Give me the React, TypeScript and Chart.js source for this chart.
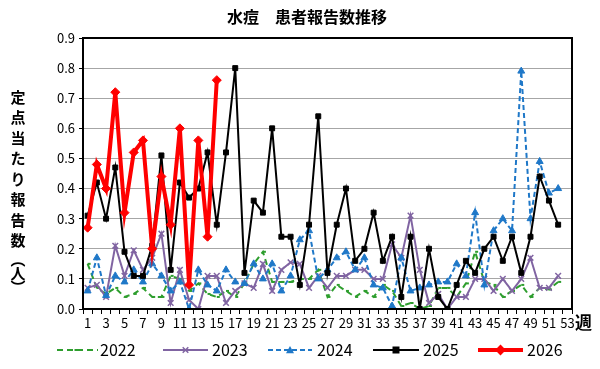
import React, { useEffect, useRef } from 'react';
import { Chart, registerables } from 'chart.js';
Chart.register(...registerables);

const weeks = ['1','2','3','4','5','6','7','8','9','10','11','12','13','14','15','16','17','18','19','20','21','22','23','24','25','26','27','28','29','30','31','32','33','34','35','36','37','38','39','40','41','42','43','44','45','46','47','48','49','50','51','52','53'];

const v2022 = [0.15,0.07,0.05,0.07,0.04,0.05,0.07,0.04,0.04,0.11,0.10,0.06,0.085,0.05,0.04,0.06,0.04,0.085,0.15,0.19,0.09,0.09,0.09,0.10,0.10,0.13,0.04,0.08,0.06,0.04,0.06,0.04,0.08,0.06,0.01,0.02,0.0,0.01,0.07,0.07,0.04,0.085,0.19,0.09,0.08,0.04,0.06,0.08,0.04,0.07,0.065,0.09];
const v2023 = [0.07,0.08,0.04,0.21,0.11,0.195,0.13,0.17,0.25,0.02,0.13,0.03,0.0,0.11,0.11,0.02,0.06,0.085,0.07,0.15,0.06,0.13,0.155,0.15,0.07,0.11,0.07,0.11,0.11,0.13,0.13,0.10,0.10,0.215,0.17,0.31,0.13,0.02,0.05,0.0,0.04,0.04,0.10,0.10,0.06,0.10,0.06,0.10,0.17,0.07,0.07,0.11];
const v2024 = [0.06,0.17,0.045,0.11,0.09,0.13,0.09,0.15,0.11,0.06,0.09,0.0,0.13,0.08,0.06,0.13,0.09,0.085,0.15,0.10,0.15,0.06,0.11,0.23,0.26,0.10,0.13,0.17,0.19,0.13,0.17,0.08,0.07,0.01,0.17,0.06,0.07,0.08,0.09,0.09,0.15,0.11,0.32,0.08,0.26,0.30,0.26,0.79,0.30,0.49,0.385,0.40];
const v2025 = [0.31,0.42,0.30,0.47,0.19,0.11,0.11,0.21,0.51,0.13,0.42,0.37,0.40,0.52,0.28,0.52,0.80,0.12,0.36,0.32,0.60,0.24,0.24,0.08,0.28,0.64,0.12,0.28,0.40,0.16,0.20,0.32,0.16,0.24,0.04,0.24,0.0,0.20,0.04,0.0,0.08,0.16,0.12,0.20,0.24,0.16,0.24,0.12,0.24,0.44,0.36,0.28];
const v2026 = [0.27,0.48,0.40,0.72,0.32,0.52,0.56,0.20,0.44,0.28,0.60,0.08,0.56,0.24,0.76];

const seriesNames = ['2022','2023','2024','2025','2026'];
const titleText = '水痘　患者報告数推移';
const yTitleChars = ['定','点','当','た','り','報','告','数','︵','人','︶'];
const xUnit = '週';

const FONT = '"Noto Sans CJK JP", "Noto Sans", sans-serif';

function drawMarker(ctx: CanvasRenderingContext2D, style: string, x: number, y: number, r: number, color: string, bw: number) {
  ctx.save();
  ctx.fillStyle = color;
  ctx.strokeStyle = color;
  ctx.lineWidth = bw;
  ctx.setLineDash([]);
  ctx.beginPath();
  if (style === 'rect') {
    ctx.rect(x - r, y - r, 2 * r, 2 * r);
    ctx.fill();
  } else if (style === 'rectRot') {
    ctx.moveTo(x, y - r * 1.2); ctx.lineTo(x + r * 1.2, y); ctx.lineTo(x, y + r * 1.2); ctx.lineTo(x - r * 1.2, y); ctx.closePath();
    ctx.fill();
  } else if (style === 'triangle') {
    ctx.moveTo(x, y - r); ctx.lineTo(x + r, y + r * 0.8); ctx.lineTo(x - r, y + r * 0.8); ctx.closePath();
    ctx.fill();
  } else if (style === 'crossRot') {
    ctx.moveTo(x - r * 0.7, y - r * 0.7); ctx.lineTo(x + r * 0.7, y + r * 0.7);
    ctx.moveTo(x + r * 0.7, y - r * 0.7); ctx.lineTo(x - r * 0.7, y + r * 0.7);
    ctx.stroke();
  } else if (style === 'dash') {
    ctx.moveTo(x - r, y); ctx.lineTo(x + r, y);
    ctx.stroke();
  }
  ctx.restore();
}

const decorPlugin = {
  id: 'decor',
  afterDraw(chart: any) {
    const ctx: CanvasRenderingContext2D = chart.ctx;
    const a = chart.chartArea;
    ctx.save();
    ctx.strokeStyle = '#000';
    ctx.lineWidth = 2;
    ctx.strokeRect(a.left, a.top, a.right - a.left, a.bottom - a.top);
    ctx.fillStyle = '#000';
    ctx.font = 'bold 16px ' + FONT;
    ctx.textAlign = 'center';
    ctx.textBaseline = 'middle';
    ctx.fillText(titleText, 307, 17);
    ctx.font = 'bold 15px ' + FONT;
    let y = 97;
    yTitleChars.forEach((c) => {
      const paren = c === '︵' || c === '︶';
      if (paren) {
        ctx.fillText(c, 18, y + (c === '︵' ? -2 : -6));
        y += 12;
      } else {
        ctx.fillText(c, 18, y);
        y += 20.5;
      }
    });
    ctx.font = 'bold 17px ' + FONT;
    ctx.textAlign = 'left';
    ctx.fillText(xUnit, 575, 323);
    const items = [
      { x1: 57, x2: 98, tx: 100 },
      { x1: 163, x2: 208, tx: 212 },
      { x1: 268, x2: 312, tx: 317 },
      { x1: 373, x2: 419, tx: 423 },
      { x1: 478, x2: 523, tx: 527 },
    ];
    const ly = 350;
    chart.data.datasets.forEach((ds: any, i: number) => {
      const it = items[i];
      ctx.save();
      ctx.strokeStyle = ds.borderColor;
      ctx.lineWidth = ds.borderWidth;
      ctx.setLineDash(ds.borderDash || []);
      ctx.beginPath();
      ctx.moveTo(it.x1, ly);
      ctx.lineTo(it.x2, ly);
      ctx.stroke();
      ctx.restore();
      drawMarker(ctx, ds.pointStyle, (it.x1 + it.x2) / 2, ly, ds.pointRadius, ds.borderColor, ds.pointBorderWidth || 2);
      ctx.fillStyle = '#000';
      ctx.font = '16px ' + FONT;
      ctx.textAlign = 'left';
      ctx.textBaseline = 'middle';
      ctx.fillText(ds.label, it.tx, ly);
    });
    ctx.restore();
  },
};

export default function App() {
  const ref = useRef<HTMLCanvasElement>(null);
  useEffect(() => {
    const canvas = ref.current!;
    const chart = new Chart(canvas, {
      type: 'line',
      data: {
        labels: weeks,
        datasets: [
          { label: seriesNames[0], data: v2022, borderColor: '#2e9e2e', backgroundColor: '#2e9e2e', borderWidth: 2, borderDash: [6, 4], pointStyle: 'dash', pointRadius: 3, pointBorderWidth: 2, order: 5 },
          { label: seriesNames[1], data: v2023, borderColor: '#8064a2', backgroundColor: '#8064a2', borderWidth: 2, pointStyle: 'crossRot', pointRadius: 4, pointBorderWidth: 1.5, order: 4 },
          { label: seriesNames[2], data: v2024, borderColor: '#1f78c8', backgroundColor: '#1f78c8', borderWidth: 2, borderDash: [5, 3], pointStyle: 'triangle', pointRadius: 4, pointBorderWidth: 1, order: 3 },
          { label: seriesNames[3], data: v2025, borderColor: '#000000', backgroundColor: '#000000', borderWidth: 2, pointStyle: 'rect', pointRadius: 3.5, pointBorderWidth: 1, order: 2 },
          { label: seriesNames[4], data: v2026, borderColor: '#ff0000', backgroundColor: '#ff0000', borderWidth: 4, pointStyle: 'rectRot', pointRadius: 4.5, pointBorderWidth: 1, order: 1 },
        ] as any,
      },
      options: {
        animation: false,
        responsive: false,
        devicePixelRatio: 1,
        layout: { padding: { left: 0, right: 28, top: 38, bottom: 40 } },
        plugins: { legend: { display: false }, title: { display: false }, tooltip: { enabled: false } },
        elements: { line: { tension: 0 } },
        scales: {
          x: {
            offset: true,
            grid: { offset: true, drawOnChartArea: false, drawTicks: true, tickLength: 5, tickColor: '#000', color: '#000' },
            border: { color: '#000', width: 2 },
            ticks: {
              autoSkip: false,
              maxRotation: 0,
              color: '#000',
              font: { family: FONT, size: 13 },
              padding: 1,
              callback: (_v: any, i: number) => (i % 2 === 0 ? weeks[i] : ''),
            },
            afterFit: (s: any) => { s.height = 20; },
          },
          y: {
            min: 0,
            max: 0.9,
            ticks: {
              stepSize: 0.1,
              color: '#000',
              font: { family: FONT, size: 13 },
              padding: 4,
              callback: (v: any) => Number(v).toFixed(1),
            },
            grid: { color: '#a6a6a6', lineWidth: 1, tickLength: 4, tickColor: '#000' },
            border: { color: '#000', width: 2 },
            afterFit: (s: any) => { s.width = 83; },
          },
        },
      } as any,
      plugins: [decorPlugin],
    });
    return () => chart.destroy();
  }, []);
  return (
    <div style={{ position: 'absolute', left: 0, top: 0, width: 600, height: 369, background: '#fff' }}>
      <canvas ref={ref} width={600} height={369} style={{ width: 600, height: 369, display: 'block' }} />
    </div>
  );
}
